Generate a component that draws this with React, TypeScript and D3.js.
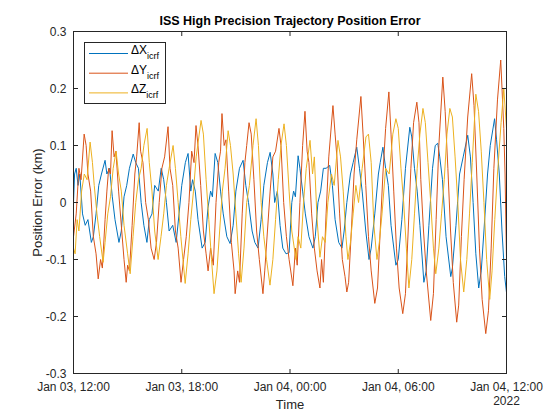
import React from "react";
import * as d3 from "d3";

// Time offsets are hours after Jan 03 2022, 12:00 UTC; values are position error in km
const dX: [number, number][] = [
  [0, 0.0], [0.06, 0.05], [0.15, 0.06], [0.25, 0.03], [0.35, 0.05], [0.5, -0.02], [0.65, -0.04], [0.8, -0.03], [0.99, -0.07],
  [1.1, -0.06], [1.25, -0.02], [1.4, 0.03], [1.55, 0.05], [1.75, 0.074], [1.85, 0.05], [2.0, 0.06], [2.15, 0.01], [2.3, -0.03], [2.52, -0.07],
  [2.65, -0.05], [2.8, 0.01], [2.95, 0.03], [3.1, 0.06], [3.31, 0.085], [3.45, 0.07], [3.6, 0.06], [3.75, 0.0], [3.9, -0.04], [4.07, -0.07],
  [4.2, -0.03], [4.35, -0.02], [4.5, 0.03], [4.7, 0.02], [4.86, 0.06], [5.0, 0.04], [5.15, 0.0], [5.3, -0.05], [5.5, -0.04], [5.69, -0.07],
  [5.85, -0.02], [6.0, 0.03], [6.2, 0.07], [6.35, 0.086], [6.5, 0.02], [6.6, 0.04], [6.75, 0.02], [6.9, -0.03], [7.13, -0.08],
  [7.3, -0.07], [7.45, -0.01], [7.6, 0.02], [7.7, 0.01], [7.85, 0.086], [8.0, 0.07], [8.15, 0.02], [8.3, -0.02], [8.5, -0.06], [8.68, -0.072],
  [8.85, -0.04], [9.0, 0.02], [9.2, 0.06], [9.4, 0.074], [9.55, 0.03], [9.7, 0.0], [9.9, -0.05], [10.05, -0.07], [10.23, -0.08],
  [10.4, -0.03], [10.55, 0.03], [10.75, 0.07], [10.9, 0.088], [11.05, 0.05], [11.15, 0.0], [11.3, 0.02], [11.45, -0.04], [11.6, -0.08], [11.78, -0.09],
  [11.95, -0.088], [12.1, 0.0], [12.2, 0.02], [12.3, 0.01], [12.45, 0.082], [12.55, 0.06], [12.7, 0.02], [12.85, -0.02], [13.05, -0.06], [13.27, -0.08],
  [13.4, -0.06], [13.55, 0.0], [13.7, 0.02], [13.85, 0.06], [14.0, 0.06], [14.2, 0.065], [14.35, 0.03], [14.5, -0.03], [14.7, -0.07], [14.88, -0.08],
  [15.0, -0.05], [15.15, 0.0], [15.35, 0.05], [15.5, 0.07], [15.7, 0.097], [15.85, 0.06], [16.0, 0.02], [16.2, -0.05], [16.38, -0.1],
  [16.5, -0.08], [16.7, -0.02], [16.9, 0.05], [17.0, 0.07], [17.15, 0.097], [17.3, 0.06], [17.45, 0.03], [17.6, -0.04], [17.87, -0.11],
  [18.0, -0.1], [18.2, -0.03], [18.4, 0.06], [18.64, 0.132], [18.75, 0.115], [18.9, 0.06], [19.05, 0.02], [19.2, -0.04], [19.42, -0.14],
  [19.55, -0.12], [19.7, -0.04], [19.9, 0.06], [20.05, 0.1], [20.19, 0.104], [20.3, 0.08], [20.45, 0.04], [20.65, -0.06], [20.91, -0.13],
  [21.0, -0.115], [21.2, -0.04], [21.4, 0.05], [21.6, 0.08], [21.85, 0.118], [22.0, 0.08], [22.15, 0.0], [22.3, -0.09], [22.46, -0.15],
  [22.6, -0.12], [22.75, -0.05], [22.95, 0.05], [23.1, 0.1], [23.34, 0.147], [23.45, 0.11], [23.6, 0.05], [23.75, -0.05], [23.9, -0.13], [24.0, -0.158],
];

const dY: [number, number][] = [
  [0, -0.06], [0.15, -0.02], [0.3, 0.06], [0.42, 0.04], [0.59, 0.12], [0.7, 0.1], [0.8, 0.05], [0.95, 0.02], [1.1, -0.06], [1.25, -0.09], [1.37, -0.134],
  [1.5, -0.1], [1.6, -0.115], [1.75, -0.03], [1.85, 0.02], [1.95, 0.06], [2.05, 0.05], [2.14, 0.126], [2.25, 0.08], [2.35, 0.09], [2.5, 0.02], [2.65, -0.04], [2.8, -0.1], [2.92, -0.14],
  [3.0, -0.11], [3.1, -0.12], [3.25, -0.04], [3.4, 0.05], [3.5, 0.08], [3.64, 0.14], [3.72, 0.09], [3.85, 0.07], [4.0, 0.0], [4.15, -0.03], [4.3, -0.08], [4.47, -0.1],
  [4.6, -0.07], [4.75, 0.0], [4.9, 0.06], [5.05, 0.08], [5.24, 0.133], [5.35, 0.06], [5.5, 0.03], [5.65, -0.05], [5.8, -0.08], [5.96, -0.14],
  [6.1, -0.1], [6.25, -0.06], [6.4, 0.0], [6.55, 0.09], [6.68, 0.07], [6.79, 0.135], [6.9, 0.1], [7.05, 0.03], [7.2, -0.05], [7.35, -0.09], [7.46, -0.12],
  [7.6, -0.08], [7.75, -0.11], [7.9, 0.0], [8.05, 0.07], [8.15, 0.09], [8.23, 0.156], [8.35, 0.1], [8.45, 0.11], [8.6, 0.02], [8.75, -0.07], [8.9, -0.12], [8.96, -0.16],
  [9.1, -0.12], [9.2, -0.14], [9.35, -0.02], [9.5, 0.07], [9.6, 0.1], [9.73, 0.14], [9.85, 0.12], [10.0, 0.04], [10.15, -0.05], [10.3, -0.1], [10.5, -0.16],
  [10.6, -0.12], [10.75, -0.05], [10.9, 0.02], [11.05, 0.08], [11.2, 0.09], [11.39, 0.13], [11.5, 0.1], [11.65, 0.0], [11.8, -0.06], [11.95, -0.1], [12.16, -0.146],
  [12.3, -0.08], [12.4, -0.11], [12.55, 0.0], [12.7, 0.1], [12.83, 0.16], [12.95, 0.09], [13.05, 0.07], [13.2, -0.02], [13.35, -0.08], [13.5, -0.12], [13.66, -0.15],
  [13.75, -0.1], [13.85, -0.14], [14.0, -0.02], [14.15, 0.08], [14.38, 0.17], [14.5, 0.12], [14.6, 0.08], [14.75, -0.02], [14.9, -0.1], [15.05, -0.13], [15.15, -0.157],
  [15.25, -0.14], [15.4, -0.05], [15.55, 0.05], [15.7, 0.11], [15.93, 0.186], [16.05, 0.12], [16.2, 0.03], [16.35, -0.06], [16.5, -0.12], [16.7, -0.177],
  [16.85, -0.15], [17.0, -0.05], [17.15, 0.05], [17.3, 0.13], [17.48, 0.194], [17.6, 0.12], [17.75, 0.02], [17.9, -0.08], [18.05, -0.15], [18.25, -0.195],
  [18.4, -0.16], [18.55, -0.05], [18.7, 0.06], [18.85, 0.14], [19.03, 0.176], [19.15, 0.14], [19.25, 0.04], [19.4, -0.05], [19.55, -0.12], [19.8, -0.207],
  [19.95, -0.16], [20.1, -0.03], [20.25, 0.1], [20.47, 0.22], [20.6, 0.16], [20.75, 0.06], [20.9, -0.05], [21.05, -0.14], [21.24, -0.21],
  [21.35, -0.18], [21.5, -0.06], [21.65, 0.04], [21.85, 0.15], [22.07, 0.226], [22.2, 0.17], [22.35, 0.05], [22.5, -0.08], [22.65, -0.17], [22.85, -0.23],
  [23.0, -0.19], [23.15, -0.08], [23.3, 0.06], [23.5, 0.18], [23.68, 0.25], [23.78, 0.18], [23.85, 0.13], [23.92, 0.05], [24.0, -0.1],
];

const dZ: [number, number][] = [
  [0, -0.08], [0.09, -0.09], [0.2, -0.03], [0.3, -0.05], [0.45, 0.02], [0.6, 0.05], [0.75, 0.04], [0.92, 0.106], [1.05, 0.07], [1.15, 0.03], [1.3, -0.02], [1.45, -0.06], [1.64, -0.105],
  [1.75, -0.07], [1.9, -0.02], [2.05, 0.01], [2.2, 0.06], [2.36, 0.09], [2.5, 0.05], [2.65, 0.02], [2.8, -0.04], [3.0, -0.09], [3.14, -0.125],
  [3.3, -0.06], [3.45, 0.0], [3.6, 0.04], [3.75, 0.06], [3.9, 0.1], [4.08, 0.13], [4.2, 0.07], [4.35, 0.02], [4.5, -0.05], [4.69, -0.1],
  [4.85, -0.06], [5.0, -0.02], [5.15, 0.03], [5.3, 0.06], [5.52, 0.1], [5.65, 0.06], [5.8, 0.0], [5.95, -0.06], [6.19, -0.142],
  [6.35, -0.09], [6.5, -0.03], [6.65, 0.02], [6.8, 0.08], [7.07, 0.144], [7.2, 0.12], [7.35, 0.04], [7.5, -0.03], [7.65, -0.1], [7.79, -0.16],
  [7.95, -0.12], [8.1, -0.05], [8.25, 0.02], [8.4, 0.06], [8.57, 0.126], [8.7, 0.1], [8.85, 0.05], [9.0, -0.02], [9.15, -0.09], [9.29, -0.14],
  [9.45, -0.08], [9.6, 0.0], [9.75, 0.03], [9.95, 0.1], [10.12, 0.147], [10.25, 0.1], [10.4, 0.0], [10.55, -0.06], [10.7, -0.1], [10.89, -0.145],
  [11.05, -0.1], [11.2, -0.03], [11.35, 0.04], [11.5, 0.1], [11.67, 0.138], [11.8, 0.1], [11.95, 0.02], [12.1, -0.05], [12.33, -0.1],
  [12.45, -0.06], [12.6, -0.08], [12.75, 0.0], [12.9, 0.06], [13.11, 0.109], [13.25, 0.05], [13.35, 0.08], [13.5, -0.03], [13.66, -0.096],
  [13.8, -0.06], [13.95, -0.07], [14.1, 0.0], [14.3, 0.05], [14.45, 0.03], [14.66, 0.109], [14.8, 0.08], [14.95, 0.02], [15.1, -0.06], [15.21, -0.1],
  [15.35, -0.07], [15.5, -0.02], [15.65, 0.03], [15.8, 0.0], [16.0, 0.06], [16.21, 0.115], [16.35, 0.12], [16.5, 0.07], [16.65, -0.04], [16.82, -0.1],
  [16.95, -0.07], [17.1, -0.02], [17.3, 0.06], [17.5, 0.05], [17.7, 0.12], [17.87, 0.147], [18.0, 0.13], [18.15, 0.06], [18.3, 0.0], [18.45, -0.08], [18.59, -0.15],
  [18.75, -0.1], [18.9, -0.02], [19.05, 0.06], [19.2, 0.12], [19.37, 0.165], [19.5, 0.14], [19.65, 0.07], [19.8, 0.0], [19.95, -0.08], [20.08, -0.125],
  [20.25, -0.08], [20.4, -0.02], [20.55, 0.04], [20.7, 0.12], [20.86, 0.165], [21.0, 0.15], [21.15, 0.08], [21.3, 0.0], [21.45, -0.1], [21.63, -0.157],
  [21.8, -0.1], [21.95, -0.02], [22.1, 0.07], [22.3, 0.19], [22.45, 0.16], [22.6, 0.09], [22.75, 0.0], [22.9, -0.1], [23.07, -0.17],
  [23.2, -0.12], [23.35, -0.03], [23.5, 0.05], [23.7, 0.14], [23.85, 0.2], [24.0, 0.13],
];

const seriesNames = ["X", "Y", "Z"];
const seriesColors = ["#0072BD", "#D95319", "#EDB120"];
const yTicks = [-0.3, -0.2, -0.1, 0, 0.1, 0.2, 0.3];
const xTickLabels = ["Jan 03, 12:00", "Jan 03, 18:00", "Jan 04, 00:00", "Jan 04, 06:00", "Jan 04, 12:00"];
const startTime = new Date(Date.UTC(2022, 0, 3, 12, 0));
const endTime = new Date(Date.UTC(2022, 0, 4, 12, 0));

const W = 560, H = 420;
const L = 73.5, R = 506.5, T = 31.5, B = 373.5;
const FONT = "'Liberation Sans', Arial, Helvetica, sans-serif";
const AX = "#262626";

export default function App() {
  const x = d3.scaleUtc().domain([startTime, endTime]).range([L, R]);
  const y = d3.scaleLinear().domain([-0.3, 0.3]).range([B, T]);
  const toDate = (h: number) => new Date(startTime.getTime() + h * 3600 * 1000);
  const line = d3
    .line<[number, number]>()
    .x((d) => x(toDate(d[0])))
    .y((d) => y(d[1]));
  const series = [dX, dY, dZ];
  const xTicks = x.ticks(d3.utcHour.every(6) as any);

  return (
    <svg width={W} height={H} style={{ display: "block", position: "absolute", left: 0, top: 0, background: "#fff" }} fontFamily={FONT}>
      <rect x={0} y={0} width={W} height={H} fill="#fff" />
      <defs>
        <clipPath id="plotclip">
          <rect x={L} y={T} width={R - L} height={B - T} />
        </clipPath>
      </defs>
      <g clipPath="url(#plotclip)">
        {series.map((s, i) => (
          <path key={i} d={line(s) || ""} fill="none" stroke={seriesColors[i]} strokeWidth={1} strokeLinejoin="round" />
        ))}
      </g>
      {/* axes box */}
      <rect x={L} y={T} width={R - L} height={B - T} fill="none" stroke={AX} strokeWidth={1} />
      {/* y ticks */}
      {yTicks.map((t) => (
        <g key={t}>
          <line x1={L} x2={L + 4.5} y1={y(t)} y2={y(t)} stroke={AX} />
          <line x1={R} x2={R - 4.5} y1={y(t)} y2={y(t)} stroke={AX} />
          <text x={L - 7} y={y(t) + 4} fontSize={12} textAnchor="end" fill={AX}>
            {t === 0 ? "0" : d3.format(".1f")(t).replace("−", "-")}
          </text>
        </g>
      ))}
      {/* x ticks */}
      {xTicks.map((t, i) => (
        <g key={i}>
          <line x1={x(t)} x2={x(t)} y1={B} y2={B - 4.5} stroke={AX} />
          <line x1={x(t)} x2={x(t)} y1={T} y2={T + 4.5} stroke={AX} />
          <text x={x(t)} y={390.5} fontSize={12} textAnchor="middle" fill={AX}>
            {xTickLabels[i]}
          </text>
        </g>
      ))}
      <text x={x(endTime)} y={405} fontSize={12} textAnchor="middle" fill={AX}>2022</text>
      <text x={(L + R) / 2} y={409} fontSize={13} textAnchor="middle" fill={AX}>Time</text>
      <text transform={`translate(41.5, ${(T + B) / 2}) rotate(-90)`} fontSize={13} textAnchor="middle" fill={AX}>
        Position Error (km)
      </text>
      <text x={(L + R) / 2} y={24.5} fontSize={12.5} fontWeight="bold" textAnchor="middle" fill="#000">
        ISS High Precision Trajectory Position Error
      </text>
      {/* legend */}
      <rect x={84.5} y={42.5} width={81} height={61} fill="#fff" stroke={AX} strokeWidth={1} />
      {seriesNames.map((n, i) => {
        const ly = 53.5 + i * 19.7;
        return (
          <g key={n}>
            <line x1={89} x2={128} y1={ly} y2={ly} stroke={seriesColors[i]} strokeWidth={1} />
            <text x={131} y={ly + 0.5} fontSize={12} fill="#000">
              {"Δ" + n}
              <tspan fontSize={9} dy={5}>icrf</tspan>
            </text>
          </g>
        );
      })}
    </svg>
  );
}
